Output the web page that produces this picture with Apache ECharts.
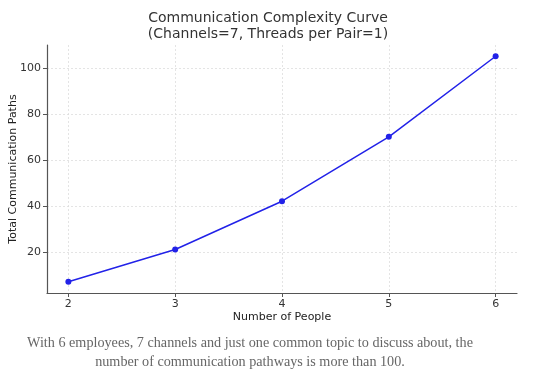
<!DOCTYPE html>
<html><head><meta charset="utf-8">
<script src="https://cdn.jsdelivr.net/npm/echarts@6/dist/echarts.min.js"></script>
<style>html,body{margin:0;padding:0;background:#fff;}#c{width:551px;height:381px;}</style>
</head><body><div id="c"></div>
<script>
const people = [2, 3, 4, 5, 6];
const paths = [7, 21, 42, 70, 105];
const xTicks = [2, 3, 4, 5, 6];
const yTicks = [20, 40, 60, 80, 100];
const titleLines = ['Communication Complexity Curve', '(Channels=7, Threads per Pair=1)'];
const captionLines = ['With 6 employees, 7 channels and just one common topic to discuss about, the', 'number of communication pathways is more than 100.'];

const chart = echarts.init(document.getElementById('c'), null, {renderer: 'canvas'});
const axisCommon = {
  axisLine: {show: true, lineStyle: {color: '#555', width: 1.2}},
  axisLabel: {color: '#333', fontSize: 11, fontFamily: 'DejaVu Sans'},
  splitLine: {show: true, lineStyle: {color: '#ddd', type: [2, 2], width: 0.8}},
  nameTextStyle: {color: '#222', fontSize: 11, fontFamily: 'DejaVu Sans'},
  nameMoveOverlap: false
};
chart.setOption({
  animation: false,
  graphic: [{
    type: 'text', x: 268, y: 10,
    style: {text: titleLines.join('\n'), fill: '#333', font: '14px "DejaVu Sans"', textAlign: 'center', textVerticalAlign: 'top', lineHeight: 16}
  }, {
    type: 'text', x: 250, y: 334,
    style: {text: captionLines.join('\n'), fill: '#666', font: '14.2px "Liberation Serif"', textAlign: 'center', textVerticalAlign: 'top', lineHeight: 19}
  }],
  grid: {left: 47, right: 34, top: 45, bottom: 88, containLabel: false, outerBoundsMode: 'none'},
  xAxis: Object.assign({}, axisCommon, {
    type: 'value', min: 1.8, max: 6.2,
    name: 'Number of People', nameLocation: 'middle', nameGap: 19,
    axisTick: {show: true, length: 4, inside: false, lineStyle: {color: '#555'}, customValues: xTicks},
    axisLabel: Object.assign({}, axisCommon.axisLabel, {customValues: xTicks, margin: 6})
  }),
  yAxis: Object.assign({}, axisCommon, {
    type: 'value', min: 2.1, max: 109.9,
    name: 'Total Communication Paths', nameLocation: 'middle', nameGap: 28, nameRotate: 90,
    axisTick: {show: true, length: 4, inside: false, lineStyle: {color: '#555'}, customValues: yTicks},
    axisLabel: Object.assign({}, axisCommon.axisLabel, {customValues: yTicks, margin: 6})
  }),
  series: [{
    type: 'line',
    data: people.map((p, i) => [p, paths[i]]),
    symbol: 'circle', symbolSize: 6,
    lineStyle: {color: '#2222e8', width: 1.5},
    itemStyle: {color: '#2222e8'}
  }]
});
</script></body></html>
